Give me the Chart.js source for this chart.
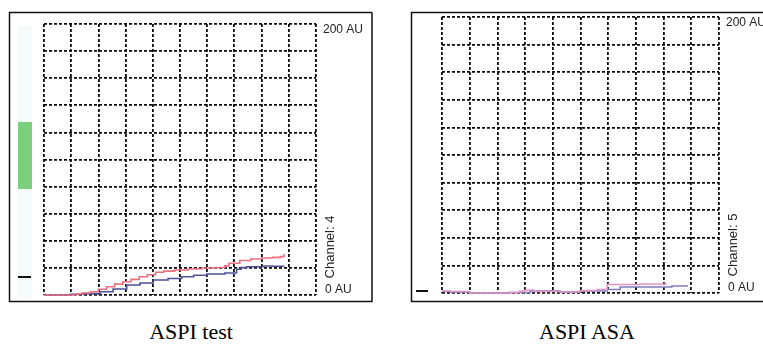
<!DOCTYPE html>
<html><head><meta charset="utf-8">
<script src="https://cdn.jsdelivr.net/npm/chart.js@4/dist/chart.umd.min.js"></script>
<style>
html,body{margin:0;padding:0;background:#fff;width:763px;height:351px;overflow:hidden;position:relative}
canvas{position:absolute}
.cap{position:absolute;font-family:"Liberation Serif","Times New Roman",serif;font-size:22px;color:#000;text-align:center;width:300px;line-height:24px}
</style></head><body>
<canvas id="c1" width="381" height="310" style="left:0;top:0"></canvas>
<canvas id="c2" width="368" height="310" style="left:395px;top:0"></canvas>
<div class="cap" id="cap1" style="left:41px;top:320px"></div>
<div class="cap" id="cap2" style="left:437px;top:320px"></div>
<script>
// ---- data (x: time units 0..100 across the grid, y: AU) ----
const captions = ['ASPI test', 'ASPI ASA'];
const channelLabels = ['Channel: 4', 'Channel: 5'];
const yTickLabels = ['0 AU', '200 AU'];
const yRange = [0, 200];

const testRedX  = [0, 9.6, 12, 14, 17, 20, 23, 26, 29, 32, 35, 38, 41, 44, 48, 53, 58, 63, 66.5, 68, 72, 76, 80, 84, 87, 88.2];
const testRedY  = [0, 0, 0.8, 1.5, 2.4, 4.2, 6.1, 8.0, 9.8, 11.5, 13.5, 15.0, 16.8, 17.6, 18.5, 19.2, 19.9, 20.3, 21.5, 23.4, 25.5, 26.6, 27.3, 27.8, 28.3, 30.3];
const testBlueX = [0, 9.6, 15, 20.6, 25.4, 30.4, 35.3, 40.2, 45.6, 50.6, 55, 59.8, 66.5, 70.8, 72.5, 74.5, 80.5, 84, 88.2];
const testBlueY = [0, 0.5, 1, 2.4, 4.4, 7.4, 8.9, 11.1, 12.2, 13.5, 14.6, 15.5, 16.2, 19, 20.2, 20.9, 21.4, 21.2, 21];

const asaPinkX   = [0, 3, 10, 24.5, 28, 30, 33, 42.6, 49.8, 56, 59.6, 71.5, 81.2];
const asaPinkY   = [1.4, 1.1, 0, 0.4, 1.5, 2.2, 1.1, 0.7, 1.8, 2.5, 6.2, 6.5, 6.5];
const asaPurpleX = [0, 3, 10, 24.5, 31.8, 42.6, 49.8, 59.6, 64.3, 81.2, 83, 88.4];
const asaPurpleY = [1.1, 0.7, 0, 0.4, 1.4, 0.7, 1.4, 2.5, 4.3, 4.3, 5.1, 5.8];

function pts(xs, ys){ return xs.map((x,i)=>({x:x, y:ys[i]})); }

const decor = {
  id:'decor',
  afterDraw(chart, args, o){
    const ctx = chart.ctx, ca = chart.chartArea, ys = chart.scales.y;
    ctx.save();
    if (o.strip){ ctx.fillStyle = '#f4fbfa'; ctx.fillRect(o.strip[0], o.strip[1], o.strip[2], o.strip[3]); }
    if (o.green){ ctx.fillStyle = '#7ccf7c'; ctx.fillRect(o.green[0], o.green[1], o.green[2], o.green[3]); }
    if (o.dash){ ctx.fillStyle = '#111'; ctx.fillRect(o.dash[0], o.dash[1], o.dash[2], 2); }
    ctx.strokeStyle = '#111'; ctx.lineWidth = 1.5;
    ctx.beginPath();
    ctx.moveTo(o.frame[2], o.frame[1]); ctx.lineTo(o.frame[0], o.frame[1]);
    ctx.lineTo(o.frame[0], o.frame[3]); ctx.lineTo(o.frame[2], o.frame[3]);
    if (o.closeRight) { ctx.lineTo(o.frame[2], o.frame[1]); }
    ctx.stroke();
    ctx.fillStyle = '#222';
    ctx.font = '12px "Liberation Sans", Arial, sans-serif';
    ctx.textAlign = 'left'; ctx.textBaseline = 'alphabetic';
    ctx.fillText(yTickLabels[1], ca.right + 7, ys.getPixelForValue(yRange[1]) + 9);
    ctx.fillText(yTickLabels[0], ca.right + 9, ys.getPixelForValue(yRange[0]) - 2);
    ctx.save();
    ctx.translate(ca.right + 14.5, ys.getPixelForValue(yRange[0]) - 48);
    ctx.rotate(-Math.PI/2);
    ctx.font = '13px "Liberation Sans", Arial, sans-serif';
    ctx.textAlign = 'center'; ctx.textBaseline = 'middle';
    ctx.fillText(o.channel, 0, 0);
    ctx.restore();
    ctx.restore();
  }
};

function axis(step, min, max){
  return {
    type:'linear', min:min, max:max,
    ticks:{display:false, stepSize:step},
    grid:{color:'#0c0c0c', lineWidth:1.8, drawTicks:false},
    border:{display:false, dash:[3,2]}
  };
}

function makeChart(id, padding, sets, decoOpts){
  return new Chart(document.getElementById(id), {
    type:'line',
    data:{ datasets: sets.map(s=>({
      data: pts(s.x, s.y), borderColor: s.color, borderWidth: 1.6,
      pointRadius: 0, stepped: true, fill: false, clip: false
    }))},
    options:{
      responsive:false, animation:false, devicePixelRatio:1,
      layout:{padding:padding},
      plugins:{legend:{display:false}, tooltip:{enabled:false}, decor:decoOpts},
      scales:{ x: axis(10, 0, 100), y: axis(20, yRange[0], yRange[1]) }
    },
    plugins:[decor]
  });
}

makeChart('c1', {left:44, right:65, top:24, bottom:15}, [
  {x:testRedX, y:testRedY, color:'#ea7181'},
  {x:testBlueX, y:testBlueY, color:'#4f509a'}
], {frame:[9.5, 12.5, 372, 301.5], closeRight:true, strip:[18,26,14,272], green:[18,122,14,67], dash:[18,276,13], channel:channelLabels[0]});

makeChart('c2', {left:47, right:44, top:17, bottom:17}, [
  {x:asaPinkX, y:asaPinkY, color:'#e592c2'},
  {x:asaPurpleX, y:asaPurpleY, color:'#7c7cbe'}
], {frame:[16.5, 12.5, 400, 301.5], closeRight:false, dash:[21,290,12], channel:channelLabels[1]});

document.getElementById('cap1').textContent = captions[0];
document.getElementById('cap2').textContent = captions[1];
</script>
</body></html>
